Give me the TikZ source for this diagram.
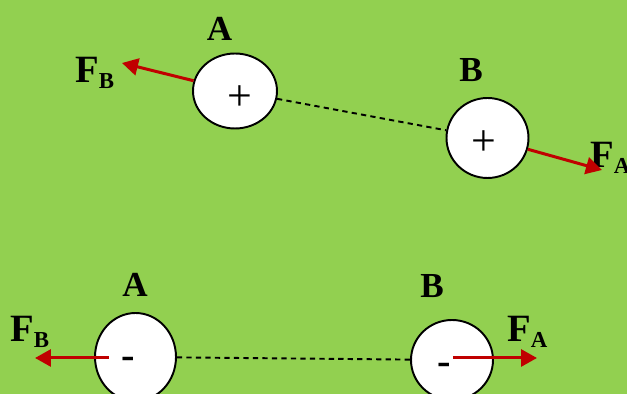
\documentclass[tikz,border=0pt]{standalone}
\usepackage{fontspec}
\setmainfont{Liberation Serif}
\usetikzlibrary{arrows.meta, shapes.geometric}
\definecolor{bggreen}{HTML}{92D050}
\definecolor{forcered}{HTML}{C00000}
\newcommand{\fsub}[1]{F\raisebox{-3pt}{\fontsize{13}{13}\selectfont #1}}

\begin{document}
\begin{tikzpicture}[
        x=0.02cm, y=-0.02cm,
        charge/.style={ellipse, draw, fill=white, line width=1.1pt, inner sep=0pt},
        sign/.style={inner sep=0pt, font=\fontsize{25}{25}\selectfont},
        minus/.style={inner sep=0pt, font=\fontsize{23}{23}\selectfont\bfseries},
        ballname/.style={inner sep=0pt, font=\fontsize{20}{20}\selectfont\bfseries},
        flabel/.style={inner sep=0pt, anchor=base west, font=\fontsize{22}{22}\selectfont\bfseries},
        force/.style={draw=forcered, line width=1.7pt, -{Triangle[length=0.32cm, width=0.34cm]}},
        link/.style={dash pattern=on 3pt off 2.4pt, line width=1.1pt},
    ]
    \useasboundingbox (0,0) rectangle (627,394);
    \fill[bggreen] (0,0) rectangle (627,394);

    % Repelling positive charges
    \node[charge, minimum width=1.68cm, minimum height=1.5cm] (A1) at (235,91) {};
    \node[charge, minimum width=1.64cm, minimum height=1.6cm] (B1) at (487.5,138) {};
    \node[sign] (pA1) at (239.5,98.5) {+};
    \node[sign] (pB1) at (484,143) {+};
    \draw[link] (A1) -- (B1);

    \node[ballname] (nA1) at (219.5,29) {A};
    \node[ballname] (nB1) at (471,70) {B};
    \node[flabel] (fB1) at (75,83) {\fsub{B}};
    \node[flabel] (fA1) at (590,168) {\fsub{A}};

    \coordinate (tB1) at (122,63);
    \coordinate (tA1) at (602,170);
    \draw[force] (A1) -- (tB1);
    \draw[force] (B1) -- (tA1);

    % Repelling negative charges
    \node[charge, minimum width=1.62cm, minimum height=1.76cm] (A2) at (135.5,357) {};
    \node[charge, minimum width=1.64cm, minimum height=1.6cm] (B2) at (452,360) {};
    \node[minus] (mA2) at (128,363) {-};
    \node[minus] (mB2) at (444,369) {-};
    \draw[link] (A2) -- (B2);

    \node[ballname] (nA2) at (135,285) {A};
    \node[ballname] (nB2) at (432,286) {B};
    \node[flabel] (fB2) at (10,342) {\fsub{B}};
    \node[flabel] (fA2) at (507,342) {\fsub{A}};

    \coordinate (sB2) at (109,358);
    \coordinate (tB2) at (35,358);
    \coordinate (sA2) at (453,358);
    \coordinate (tA2) at (537,358);
    \draw[force] (sB2) -- (tB2);
    \draw[force] (sA2) -- (tA2);
\end{tikzpicture}
\end{document}
